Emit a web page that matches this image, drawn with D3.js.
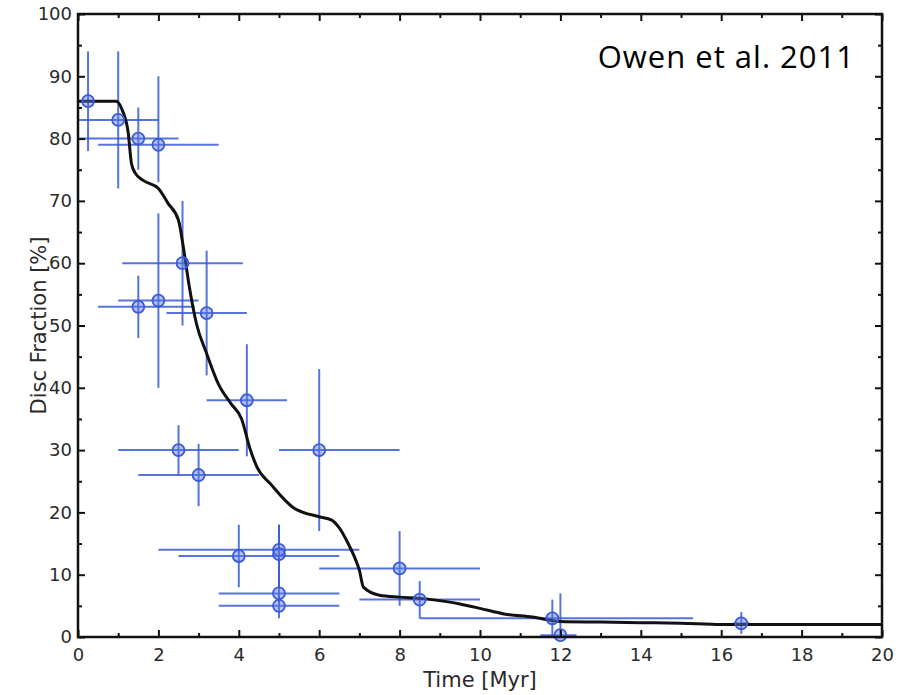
<!DOCTYPE html>
<html>
<head>
<meta charset="utf-8">
<script src="https://cdn.jsdelivr.net/npm/d3@7"></script>
<style>
  body { margin: 0; background: #fff; }
  svg { display: block; }
</style>
</head>
<body>
<div id="plot"></div>
<script>
// observed disc fractions: age, fraction, age range, fraction range
const ageMyr  = [0.25, 1, 1.5, 2, 2.6, 1.5, 2, 3.2, 4.2, 2.5, 3, 6, 4, 5, 5, 5, 5, 8, 8.5, 11.8, 12, 16.5];
const discPct = [86, 83, 80, 79, 60, 53, 54, 52, 38, 30, 26, 30, 13, 14, 13.3, 7, 5, 11, 6, 3, 0.3, 2.2];
const ageLo   = [0.25, 0, 0, 0.5, 1.1, 0.5, 1, 2.2, 3.2, 1, 1.5, 5, 2.5, 2, 5, 3.5, 3.5, 6, 7, 8.5, 11.5, 16.3];
const ageHi   = [0.25, 2, 2.5, 3.5, 4.1, 2.9, 3, 4.2, 5.2, 4, 4.5, 8, 6.5, 7, 5, 6.5, 6.5, 10, 10, 15.3, 12.4, 16.7];
const pctLo   = [78, 72, 75, 73, 50, 48, 40, 42, 29, 26, 21, 17, 8, 8, 8, 5.5, 3, 5, 3, 0, 0, 0.5];
const pctHi   = [94, 94, 85, 90, 70, 58, 68, 62, 47, 34, 31, 43, 18, 18, 18, 9, 7, 17, 9, 6, 7, 4];

// model curve
const modelAge = [0, 0.95, 1.1, 1.25, 1.33, 1.42, 1.62, 2.0, 2.24, 2.5, 2.62, 2.75, 2.95, 3.2, 3.5, 3.8,
  4.07, 4.28, 4.45, 4.8, 5.35, 6.0, 6.3, 6.5, 6.72, 6.9, 7.0, 7.1, 7.5, 8.0, 8.5, 9.25, 9.5, 10.0, 10.6,
  11.3, 12.0, 13.0, 14.0, 15.0, 16.0, 20.0];
const modelPct = [86, 86, 84.6, 80.9, 76, 74.5, 73.3, 72, 69.6, 66.9, 62.6, 57, 50.2, 45.5, 40.5, 37.5,
  35, 30.2, 27.3, 24.5, 20.8, 19.3, 18.8, 17.5, 15, 12.5, 10.7, 8, 6.7, 6.4, 6.2, 5.6, 5.3, 4.6, 3.7,
  3.2, 2.5, 2.4, 2.3, 2.2, 2.0, 2.0];

const xTicks = [0, 2, 4, 6, 8, 10, 12, 14, 16, 18, 20];
const yTicks = [0, 10, 20, 30, 40, 50, 60, 70, 80, 90, 100];

const width = 904;
const height = 695;
const margin = { left: 78, top: 14, right: 22, bottom: 58 };

const svg = d3
  .select("#plot")
  .append("svg")
  .attr("width", width)
  .attr("height", height);

const x = d3.scaleLinear().domain([0, 20]).range([margin.left, width - margin.right]);
const y = d3.scaleLinear().domain([0, 100]).range([height - margin.bottom, margin.top]);

const points = ageMyr.map((a, i) => ({
  a, p: discPct[i], aLo: ageLo[i], aHi: ageHi[i], pLo: pctLo[i], pHi: pctHi[i]
}));

const blue = "#3a5ad8";

// error bars
const bars = svg.append("g").attr("stroke", blue).attr("stroke-width", 2).attr("stroke-opacity", 0.85);
bars.selectAll(".xerr")
  .data(points.filter((d) => d.aHi > d.aLo))
  .enter()
  .append("line")
  .attr("x1", (d) => x(d.aLo))
  .attr("x2", (d) => x(d.aHi))
  .attr("y1", (d) => y(d.p))
  .attr("y2", (d) => y(d.p));
bars.selectAll(".yerr")
  .data(points)
  .enter()
  .append("line")
  .attr("x1", (d) => x(d.a))
  .attr("x2", (d) => x(d.a))
  .attr("y1", (d) => y(d.pLo))
  .attr("y2", (d) => y(d.pHi));

// model curve
svg.append("path")
  .datum(modelAge.map((a, i) => [a, modelPct[i]]))
  .attr("fill", "none")
  .attr("stroke", "#111")
  .attr("stroke-width", 3)
  .attr("stroke-linejoin", "round")
  .attr("d", d3.line().x((d) => x(d[0])).y((d) => y(d[1])).curve(d3.curveMonotoneX));

// markers
svg.append("g")
  .selectAll("circle")
  .data(points)
  .enter()
  .append("circle")
  .attr("cx", (d) => x(d.a))
  .attr("cy", (d) => y(d.p))
  .attr("r", 6)
  .attr("fill", "rgba(90,120,235,0.45)")
  .attr("stroke", blue)
  .attr("stroke-width", 1.8);

// axes: ticks inside, on all four sides
const tickFont = "DejaVu Sans, Verdana, sans-serif";
const frame = svg.append("g");

function addAxis(axis, tx, ty, labels) {
  const g = frame.append("g").attr("transform", `translate(${tx},${ty})`).call(axis);
  g.select(".domain").remove();
  g.selectAll("line").attr("stroke", "#111").attr("stroke-width", 2);
  g.selectAll("text")
    .style("font-family", tickFont)
    .style("font-size", "18px")
    .attr("fill", labels ? "#2a2a2a" : "none");
  return g;
}

const xMinor = d3.range(1, 20, 2);
const yMinor = d3.range(5, 100, 10);

addAxis(d3.axisBottom(x).tickValues(xTicks).tickSize(-7).tickPadding(11), 0, y(0), true);
addAxis(d3.axisBottom(x).tickValues(xMinor).tickSize(-4).tickFormat(""), 0, y(0), false);
addAxis(d3.axisTop(x).tickValues(xTicks).tickSize(-7).tickFormat(""), 0, y(100), false);
addAxis(d3.axisTop(x).tickValues(xMinor).tickSize(-4).tickFormat(""), 0, y(100), false);
addAxis(d3.axisLeft(y).tickValues(yTicks).tickSize(-7).tickPadding(6), x(0), 0, true);
addAxis(d3.axisLeft(y).tickValues(yMinor).tickSize(-4).tickFormat(""), x(0), 0, false);
addAxis(d3.axisRight(y).tickValues(yTicks).tickSize(-7).tickFormat(""), x(20), 0, false);
addAxis(d3.axisRight(y).tickValues(yMinor).tickSize(-4).tickFormat(""), x(20), 0, false);

frame.append("rect")
  .attr("x", x(0))
  .attr("y", y(100))
  .attr("width", x(20) - x(0))
  .attr("height", y(0) - y(100))
  .attr("fill", "none")
  .attr("stroke", "#111")
  .attr("stroke-width", 2.5);

// axis titles
svg.append("text")
  .attr("x", (x(0) + x(20)) / 2)
  .attr("y", 687)
  .attr("text-anchor", "middle")
  .style("font-family", tickFont)
  .style("font-size", "21px")
  .attr("fill", "#2a2a2a")
  .text("Time [Myr]");

svg.append("text")
  .attr("transform", `translate(46,${(y(0) + y(100)) / 2}) rotate(-90)`)
  .attr("text-anchor", "middle")
  .style("font-family", tickFont)
  .style("font-size", "21px")
  .attr("fill", "#2a2a2a")
  .text("Disc Fraction [%]");

svg.append("text")
  .attr("x", 855)
  .attr("y", 68)
  .attr("text-anchor", "end")
  .style("font-family", "Open Sans, sans-serif")
  .style("font-size", "31px")
  .style("letter-spacing", "1px")
  .attr("fill", "#000")
  .text("Owen et al. 2011");
</script>
</body>
</html>
